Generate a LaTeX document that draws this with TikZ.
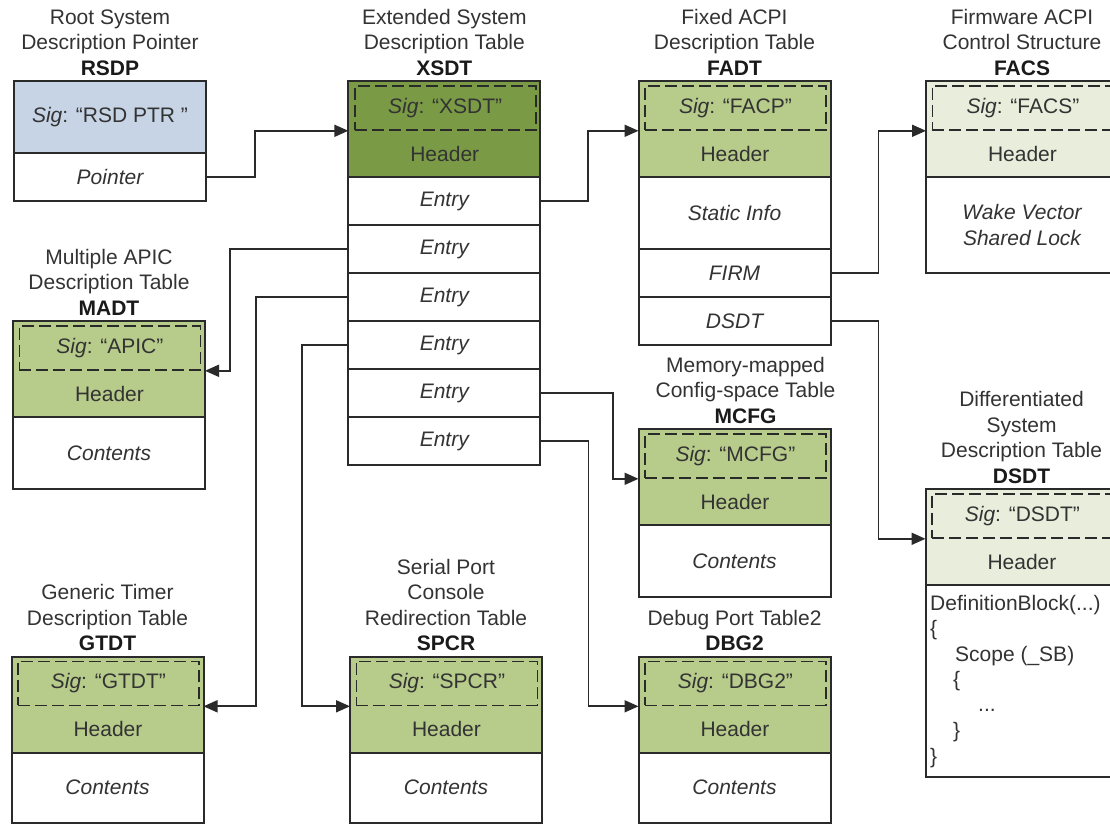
\documentclass[tikz,border=0pt]{standalone}
\usepackage{fontspec}
\setmainfont{Liberation Sans}
\usetikzlibrary{calc,arrows.meta}
\definecolor{linec}{HTML}{2A2A2A}
\definecolor{txtc}{HTML}{333333}
\definecolor{namec}{HTML}{1A1A1A}
\definecolor{rsdpblue}{HTML}{C6D4E5}
\definecolor{darkgreen}{HTML}{7A9A46}
\definecolor{midgreen}{HTML}{B7CB8B}
\definecolor{palegreen}{HTML}{E9EDDB}
\newcommand{\acpihdr}[5]{%
  \node[hdrbox, fill=#4] (#1-h) at (#2,#3) {};
  \node[sigbox] (#1-sig) at ($(#1-h.north west)+(5.5,4)$) {\textit{Sig}: “#5”};
  \node[base] (#1-hl) at ($(#1-sig.south)!0.5!(#1-h.south)$) {Header};
}
\newcommand{\acpirow}[5]{%
  \node[rowbox, minimum height=#4pt] (#1) at (#2,#3) {#5};
}
\begin{document}
\begin{tikzpicture}[x=1pt,y=-1pt,
  base/.style={font=\fontsize{21}{25.4}\selectfont, text=txtc, inner sep=0pt},
  lbl/.style={base, align=center, anchor=south},
  hdrbox/.style={draw=linec, line width=2pt, anchor=north west, minimum width=192pt, minimum height=96pt, inner sep=0pt, outer sep=0pt},
  sigbox/.style={base, draw=linec, line width=1.8pt, dash pattern=on 12pt off 5pt, anchor=north west, minimum width=181pt, minimum height=44pt},
  rowbox/.style={base, draw=linec, line width=2pt, fill=white, anchor=north west, minimum width=192pt, align=center, outer sep=0pt, font=\fontsize{21}{25.4}\selectfont\itshape},
  conn/.style={draw=linec, line width=1.8pt, -{Triangle[length=14pt,width=12pt]}},
  code/.style={base, anchor=base west}
]
\useasboundingbox (0,0) rectangle (1110,824);
\fill[white] (0,0) rectangle (1110,824);
\clip (0,0) rectangle (1110,824);

% RSDP
\node[rowbox, fill=rsdpblue, minimum height=72pt, font=\fontsize{21}{25.4}\selectfont] (rsdp-s) at (14,81) {\textit{Sig}: “RSD PTR ”};
\acpirow{rsdp-p}{14}{153}{48}{Pointer}
\node[lbl] (rsdp-l) at ($(rsdp-s.north)+(0,-5.5)$) {Root System\\Description Pointer\\\textcolor{namec}{\textbf{RSDP}}};

% XSDT
\acpihdr{xsdt}{348.3}{81}{darkgreen}{XSDT}
\acpirow{xsdt-e1}{348.3}{177}{48}{Entry}
\acpirow{xsdt-e2}{348.3}{225}{48}{Entry}
\acpirow{xsdt-e3}{348.3}{273}{48}{Entry}
\acpirow{xsdt-e4}{348.3}{321}{48}{Entry}
\acpirow{xsdt-e5}{348.3}{369}{48}{Entry}
\acpirow{xsdt-e6}{348.3}{417}{48}{Entry}
\node[lbl] (xsdt-l) at ($(xsdt-h.north)+(0,-5.5)$) {Extended System\\Description Table\\\textcolor{namec}{\textbf{XSDT}}};

% FADT
\acpihdr{fadt}{638.5}{81}{midgreen}{FACP}
\acpirow{fadt-info}{638.5}{177}{72}{Static Info}
\acpirow{fadt-firm}{638.5}{249}{48}{FIRM}
\acpirow{fadt-dsdt}{638.5}{297}{48}{DSDT}
\node[lbl] (fadt-l) at ($(fadt-h.north)+(0,-5.5)$) {Fixed ACPI\\Description Table\\\textcolor{namec}{\textbf{FADT}}};

% FACS
\acpihdr{facs}{926}{81}{palegreen}{FACS}
\acpirow{facs-b}{926}{177}{96}{Wake Vector\\Shared Lock}
\node[lbl] (facs-l) at ($(facs-h.north)+(0,-5.5)$) {Firmware ACPI\\Control Structure\\\textcolor{namec}{\textbf{FACS}}};

% MADT
\acpihdr{madt}{13}{321}{midgreen}{APIC}
\acpirow{madt-b}{13}{417}{72}{Contents}
\node[lbl] (madt-l) at ($(madt-h.north)+(0,-5.5)$) {Multiple APIC\\Description Table\\\textcolor{namec}{\textbf{MADT}}};

% MCFG
\acpihdr{mcfg}{638.5}{429}{midgreen}{MCFG}
\acpirow{mcfg-b}{638.5}{525}{72}{Contents}
\node[lbl] (mcfg-l) at ($(mcfg-h.north)+(11,-5.5)$) {Memory-mapped\\Config-space Table\\\textcolor{namec}{\textbf{MCFG}}};

% DSDT
\acpihdr{dsdt}{925.5}{489}{palegreen}{DSDT}
\acpirow{dsdt-b}{925.5}{585}{192}{}
\node[lbl] (dsdt-l) at ($(dsdt-h.north)+(0,-5.5)$) {Differentiated\\System\\Description Table\\\textcolor{namec}{\textbf{DSDT}}};
\node[code] (c1) at (930,610) {DefinitionBlock(...)};
\node[code] (c2) at (930,635.5) {\{};
\node[code] (c3) at (955,661) {Scope (\_SB)};
\node[code] (c4) at (953,686.5) {\{};
\node[code] (c5) at (978,711) {...};
\node[code] (c6) at (953,737.5) {\}};
\node[code] (c7) at (930,763) {\}};

% GTDT
\acpihdr{gtdt}{11.5}{656.5}{midgreen}{GTDT}
\acpirow{gtdt-b}{11.5}{752.5}{70}{Contents}
\node[lbl] (gtdt-l) at ($(gtdt-h.north)+(0,-5.5)$) {Generic Timer\\Description Table\\\textcolor{namec}{\textbf{GTDT}}};

% SPCR
\acpihdr{spcr}{350}{656.5}{midgreen}{SPCR}
\acpirow{spcr-b}{350}{752.5}{70}{Contents}
\node[lbl] (spcr-l) at ($(spcr-h.north)+(0,-5.5)$) {Serial Port\\Console\\Redirection Table\\\textcolor{namec}{\textbf{SPCR}}};

% DBG2
\acpihdr{dbg}{638.5}{656.5}{midgreen}{DBG2}
\acpirow{dbg-b}{638.5}{752.5}{70}{Contents}
\node[lbl] (dbg-l) at ($(dbg-h.north)+(0,-5.5)$) {Debug Port Table2\\\textcolor{namec}{\textbf{DBG2}}};

% connectors
\draw[conn] (rsdp-p.east) -- ++(49,0) |- (xsdt-h.west |- xsdt-sig.south);
\draw[conn] (xsdt-e1.east) -- ++(48,0) |- (fadt-h.west |- fadt-sig.south);
\draw[conn] (fadt-firm.east) -- ++(48,0) |- (facs-h.west |- facs-sig.south);
\draw[conn] (fadt-dsdt.east) -- ++(48,0) |- (dsdt-h.west |- dsdt-sig.south);
\draw[conn] (xsdt-e2.west) -- ++(-118,0) |- (madt-h.east |- madt-sig.south);
\draw[conn] (xsdt-e3.west) -- ++(-92,0) |- (gtdt-h.east |- gtdt-sig.south);
\draw[conn] (xsdt-e4.west) -- ++(-46.6,0) |- (spcr-h.west |- spcr-sig.south);
\draw[conn] (xsdt-e5.east) -- ++(72.4,0) |- (mcfg-h.west |- mcfg-sig.south);
\draw[conn] (xsdt-e6.east) -- ++(48.2,0) |- (dbg-h.west |- dbg-sig.south);
\end{tikzpicture}
\end{document}
